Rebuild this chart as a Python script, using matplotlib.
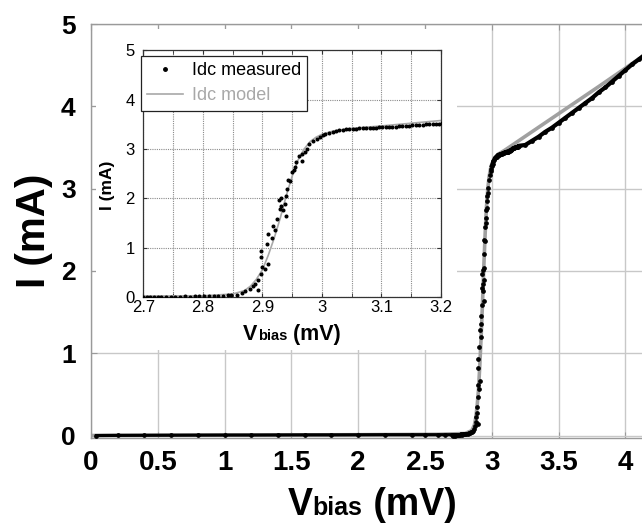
import numpy as np
import matplotlib
matplotlib.use("Agg")
import matplotlib.pyplot as plt
from matplotlib.patches import Rectangle
from matplotlib.lines import Line2D
from matplotlib.offsetbox import TextArea, HPacker, AnchoredOffsetbox

plt.rcParams['font.family'] = ['Liberation Sans', 'DejaVu Sans']

# measured DC current vs bias voltage (mV, mA)
v_meas = [0.04, 0.2, 0.4, 0.6, 0.8, 1.0, 1.2, 1.4, 1.6, 1.8, 2.0, 2.2, 2.4, 2.5, 2.6, 2.65,
          2.700, 2.706, 2.712, 2.718, 2.724, 2.730, 2.738, 2.746, 2.754, 2.762, 2.770, 2.778,
          2.786, 2.794, 2.802, 2.810, 2.818, 2.826, 2.834, 2.842, 2.848,
          2.857, 2.866, 2.871, 2.879, 2.885, 2.888, 2.892, 2.893, 2.897, 2.897, 2.898, 2.899,
          2.904, 2.907, 2.910, 2.910, 2.916, 2.917, 2.921, 2.925, 2.928, 2.929, 2.931, 2.932,
          2.935, 2.938, 2.939, 2.939, 2.942, 2.943, 2.947, 2.949, 2.953, 2.954, 2.957, 2.962,
          2.966, 2.967, 2.971, 2.975, 2.979, 2.985, 2.991, 2.997,
          3.001, 3.006, 3.012, 3.018, 3.023, 3.029, 3.035, 3.041, 3.046, 3.052, 3.057, 3.063,
          3.069, 3.074, 3.080, 3.085, 3.090, 3.096, 3.101, 3.107, 3.113, 3.118, 3.124, 3.130,
          3.135, 3.141, 3.147, 3.152, 3.158, 3.163, 3.169, 3.174, 3.180, 3.186, 3.191, 3.197,
          3.202, 3.25, 3.3, 3.35, 3.4, 3.45, 3.5, 3.55, 3.6, 3.65, 3.7, 3.75, 3.8, 3.85, 3.9,
          3.95, 4.0, 4.05, 4.1, 4.14]
i_meas = [0.0, 0.002, 0.003, 0.004, 0.005, 0.006, 0.006, 0.007, 0.008, 0.008, 0.009, 0.01, 0.01, 0.01, 0.01, 0.01,
          0.01, 0.00, 0.01, 0.01, 0.00, 0.01, 0.01, 0.01, 0.01, 0.01, 0.02, 0.01,
          0.02, 0.02, 0.02, 0.02, 0.02, 0.03, 0.03, 0.04, 0.04,
          0.05, 0.08, 0.12, 0.17, 0.22, 0.27, 0.35, 0.14, 0.82, 0.93, 0.47, 0.61,
          0.57, 1.07, 0.66, 1.28, 1.20, 1.45, 1.35, 1.59, 1.96, 1.79, 2.01, 1.84,
          1.76, 1.89, 1.64, 2.04, 2.20, 2.38, 2.36, 2.53, 2.58, 2.64, 2.74, 2.85,
          2.76, 2.91, 2.95, 3.01, 3.11, 3.16, 3.21, 3.24,
          3.28, 3.30, 3.33, 3.35, 3.37, 3.38, 3.39, 3.40, 3.41, 3.41, 3.41, 3.42,
          3.42, 3.42, 3.43, 3.43, 3.43, 3.44, 3.44, 3.44, 3.45, 3.45, 3.45, 3.46,
          3.46, 3.47, 3.47, 3.48, 3.49, 3.49, 3.49, 3.50, 3.50, 3.50, 3.51, 3.51,
          3.52, 3.53, 3.58, 3.63, 3.69, 3.74, 3.80, 3.86, 3.92, 3.98, 4.04, 4.10, 4.17, 4.23, 4.30,
          4.37, 4.44, 4.51, 4.57, 4.62]

# model curve
v_model = [0.0, 1.0, 2.0, 2.6, 2.8, 2.85, 2.87, 2.88, 2.89, 2.90, 2.91, 2.92, 2.93, 2.94,
           2.95, 2.96, 2.97, 2.98, 2.99, 3.00, 3.02, 3.05, 3.10, 3.20, 3.50, 3.80, 4.14]
i_model = [0.0, 0.005, 0.01, 0.015, 0.025, 0.06, 0.13, 0.22, 0.36, 0.55, 0.85, 1.2, 1.6, 2.05,
           2.45, 2.78, 3.0, 3.15, 3.24, 3.30, 3.37, 3.42, 3.47, 3.58, 3.91, 4.24, 4.62]

main_xticks = [0, 0.5, 1, 1.5, 2, 2.5, 3, 3.5, 4]
main_xlabels = ["0", "0.5", "1", "1.5", "2", "2.5", "3", "3.5", "4"]
main_yticks = [0, 1, 2, 3, 4, 5]
main_ylabels = ["0", "1", "2", "3", "4", "5"]
inset_xticks = [2.7, 2.8, 2.9, 3.0, 3.1, 3.2]
inset_xlabels = ["2.7", "2.8", "2.9", "3", "3.1", "3.2"]
inset_xminor = [2.75, 2.85, 2.95, 3.05, 3.15]

v = np.array(v_meas)
i = np.array(i_meas)

W, H = 642, 524
fig = plt.figure(figsize=(W / 100, H / 100), dpi=100)


def vbias_label(x, y, big, small):
    # "V" + small "bias" + " (mV)" sitting on one baseline
    parts = [TextArea("V", textprops=dict(fontsize=big, fontweight="bold")),
             TextArea("bias", textprops=dict(fontsize=small, fontweight="bold")),
             TextArea(" (mV)", textprops=dict(fontsize=big, fontweight="bold"))]
    box = HPacker(children=parts, align="baseline", pad=0, sep=0)
    anchored = AnchoredOffsetbox(loc="lower center", child=box, pad=0, borderpad=0,
                                 frameon=False, bbox_to_anchor=(x / W, 1 - y / H),
                                 bbox_transform=fig.transFigure)
    fig.add_artist(anchored)


# ---- main plot ----
ax = fig.add_axes([91 / W, 1 - 438 / H, 1 - 91 / W, (438 - 24) / H])
ax.set_xlim(0, 4.124)
ax.set_ylim(-0.03, 5)
ax.set_axisbelow(True)
ax.grid(True, color="#c8c8c8", lw=1.0)
for s in ["top", "left", "bottom"]:
    ax.spines[s].set_color("#9a9a9a")
    ax.spines[s].set_linewidth(1.0)
ax.spines["right"].set_visible(False)
ax.set_xticks(main_xticks)
ax.set_xticklabels(main_xlabels)
ax.set_yticks(main_yticks)
ax.set_yticklabels(main_ylabels)
ax.tick_params(direction="in", length=4, color="#9a9a9a", top=True, right=False)
ax.tick_params(axis="x", labelsize=20, pad=9)
ax.tick_params(axis="y", labelsize=19, pad=11)
for lab in ax.get_xticklabels() + ax.get_yticklabels():
    lab.set_fontweight("bold")

ax.plot(v_model, i_model, color="#a0a0a0", lw=2.6, zorder=2)
flat = v < 2.85
upper = v >= 3.0
ax.plot(v[flat], i[flat], color="k", lw=2.3, zorder=3)
ax.plot(v[upper], i[upper], color="k", lw=3.0, zorder=3)
ax.plot(v, i, "o", color="k", ms=2.4, zorder=3)

vbias_label(372, 523, 27, 18)
ax.set_ylabel("I (mA)", fontsize=29, fontweight="bold", va="center")
ax.yaxis.set_label_coords((34 - 91) / 551, 0.5)

# white panel behind the inset
ax.add_patch(Rectangle((96 / W, 1 - 350 / H), (457 - 96) / W, (350 - 29) / H,
                       transform=fig.transFigure, facecolor="white", edgecolor="none", zorder=1))

# ---- inset ----
ins = fig.add_axes([143.3 / W, 1 - 297 / H, (441 - 143.3) / W, (297 - 50.5) / H])
ins.set_xlim(2.7, 3.2)
ins.set_ylim(0, 5)
ins.set_xticks(inset_xticks)
ins.set_xticklabels(inset_xlabels)
ins.set_xticks(inset_xminor, minor=True)
ins.set_yticks(main_yticks)
ins.set_yticklabels(main_ylabels)
ins.grid(True, which="both", color="#8a8a8a", lw=0.8, ls=(0, (1, 1)))
ins.tick_params(which="both", direction="in", length=3, top=True, right=True,
                labelsize=12, pad=2, color="#333333")
ins.tick_params(axis="y", pad=6)
for s in ins.spines.values():
    s.set_color("#333333")
    s.set_linewidth(0.9)

ins.plot(v_model, i_model, color="#a8a8a8", lw=1.2, zorder=2)
ins.plot(v, i, "o", color="k", ms=1.9, zorder=3)

vbias_label(292, 345, 15.5, 10.5)
ins.set_ylabel("I (mA)", fontsize=12.5, fontweight="bold", va="center")
ins.yaxis.set_label_coords(-0.119, 0.454)

handles = [Line2D([], [], ls="none", marker=".", color="k", ms=5),
           Line2D([], [], color="#a8a8a8", lw=1.2)]
leg = ins.legend(handles, ["Idc measured", "Idc model"], loc="upper left",
                 bbox_to_anchor=(141 / W, 1 - 56 / H), bbox_transform=fig.transFigure,
                 fontsize=13, fancybox=False, framealpha=1, edgecolor="#222222",
                 borderpad=0.35, labelspacing=0.45, handlelength=2.0, handletextpad=0.45,
                 borderaxespad=0)
leg.get_frame().set_linewidth(0.9)
leg.get_texts()[1].set_color("#a8a8a8")

fig.savefig("out.png", dpi=100)
